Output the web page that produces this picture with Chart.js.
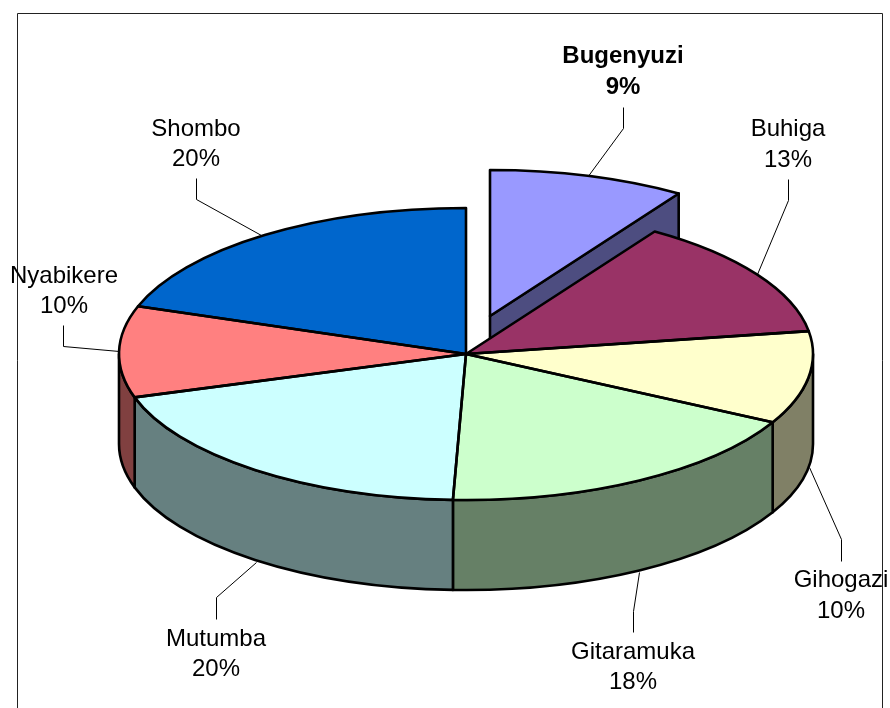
<!DOCTYPE html>
<html>
<head>
<meta charset="utf-8">
<script src="https://cdn.jsdelivr.net/npm/chart.js@4"></script>
<style>
html,body{margin:0;padding:0;background:#fff}
canvas{display:block}
</style>
</head>
<body>
<canvas id="c" width="890" height="708"></canvas>
<script>
const categories = ['Bugenyuzi','Buhiga','Gihogazi','Gitaramuka','Mutumba','Nyabikere','Shombo'];
const shares = [9.15,13.35,10.25,17.85,19.6,10.1,19.7];
const topColors = ['#9999FF','#993366','#FFFFCC','#CCFFCC','#CCFFFF','#FF8080','#0066CC'];
const wallColors = ['#4D4D80','#4D1A33','#808066','#668066','#668080','#804040','#003366'];

const TILT = 146/347, DEPTH = 90, RADIUS = 347;
const EXPLODED = 0, EXPLODE_DX = 24, EXPLODE_DY = -38;
const FONT = '"Liberation Sans", Arial, sans-serif';
const labelLayout = [
  {x:623,y:[63,94],bold:true,line:[[623,107],[623,128],[587,177]]},
  {x:788,y:[136,167],line:[[788,179],[788,200],[757,274]]},
  {x:841,y:[587,618],line:[[809,467],[841,539],[841,561]]},
  {x:633,y:[659,689],line:[[639,572],[633,611],[633,632]]},
  {x:216,y:[646,676],line:[[256,562],[216,597],[216,619]]},
  {x:64,y:[283,313],line:[[63,325],[63,346],[119,351]]},
  {x:196,y:[136,166],line:[[196,178],[196,199],[261,235]]}
];

function centre(chart){
  const a = chart.chartArea;
  return {cx:(a.left+a.right)/2, cy:(a.top+a.bottom)/2};
}
function frontSpan(a0,a1){
  // part of [a0,a1] on the near half of the disc (0..PI in canvas angles)
  const s = Math.max(a0,0), e = Math.min(a1,Math.PI);
  return e>s ? [s,e] : null;
}
const pie3d = {
  id:'pie3d',
  beforeDatasetsDraw(chart){
    const ctx = chart.ctx, arcs = chart.getDatasetMeta(0).data, {cx,cy} = centre(chart);
    // frame
    ctx.save();
    ctx.strokeStyle='#222'; ctx.lineWidth=1;
    ctx.beginPath(); ctx.moveTo(17.5,708); ctx.lineTo(17.5,13.5); ctx.lineTo(882.5,13.5); ctx.lineTo(882.5,708); ctx.stroke();
    // leader lines
    ctx.strokeStyle='#000'; ctx.lineWidth=1;
    labelLayout.forEach(l=>{
      ctx.beginPath();
      l.line.forEach((p,i)=> i? ctx.lineTo(p[0]+.5,p[1]+.5):ctx.moveTo(p[0]+.5,p[1]+.5));
      ctx.stroke();
    });
    ctx.lineWidth=2.6; ctx.strokeStyle='#000'; ctx.lineJoin='round';
    // exploded slice: move it on the disc plane, draw its cut face
    const ex = arcs[EXPLODED];
    ex.x = cx+EXPLODE_DX; ex.y = cy+EXPLODE_DY/TILT;
    const ax = cx+EXPLODE_DX, ay = cy+EXPLODE_DY;
    const rx = ax+RADIUS*Math.cos(ex.endAngle), ry = ay+RADIUS*TILT*Math.sin(ex.endAngle);
    ctx.fillStyle = wallColors[EXPLODED];
    ctx.beginPath(); ctx.moveTo(ax,ay); ctx.lineTo(rx,ry); ctx.lineTo(rx,ry+DEPTH); ctx.lineTo(ax,ay+DEPTH); ctx.closePath();
    ctx.fill(); ctx.stroke();
    // outer walls of the other slices
    arcs.forEach((arc,i)=>{
      if(i===EXPLODED) return;
      const span = frontSpan(arc.startAngle,arc.endAngle);
      if(!span) return;
      ctx.fillStyle = wallColors[i];
      ctx.beginPath();
      ctx.ellipse(cx,cy,RADIUS,RADIUS*TILT,0,span[0],span[1]);
      ctx.ellipse(cx,cy+DEPTH,RADIUS,RADIUS*TILT,0,span[1],span[0],true);
      ctx.closePath();
      ctx.fill(); ctx.stroke();
    });
    ctx.restore();
    // the library's arcs are drawn flattened onto the disc plane
    ctx.save();
    ctx.translate(0,cy); ctx.scale(1,TILT); ctx.translate(0,-cy);
  },
  afterDatasetsDraw(chart){
    const ctx = chart.ctx, arcs = chart.getDatasetMeta(0).data, {cx,cy} = centre(chart);
    ctx.restore();
    ctx.save();
    ctx.lineWidth=2.6; ctx.strokeStyle='#000'; ctx.lineJoin='round';
    arcs.forEach((arc,i)=>{
      const x = i===EXPLODED? cx+EXPLODE_DX : cx, y = i===EXPLODED? cy+EXPLODE_DY : cy;
      ctx.beginPath();
      ctx.moveTo(x,y);
      ctx.ellipse(x,y,RADIUS,RADIUS*TILT,0,arc.startAngle,arc.endAngle);
      ctx.closePath();
      ctx.stroke();
    });
    // labels
    const total = shares.reduce((a,b)=>a+b,0);
    ctx.fillStyle='#000'; ctx.textAlign='center'; ctx.textBaseline='alphabetic';
    categories.forEach((name,i)=>{
      const l = labelLayout[i];
      ctx.font = (l.bold?'bold ':'')+'24px '+FONT;
      ctx.fillText(name,l.x,l.y[0]);
      ctx.fillText(Math.round(shares[i]/total*100)+'%',l.x,l.y[1]);
    });
    ctx.restore();
  }
};

new Chart(document.getElementById('c'),{
  type:'pie',
  data:{labels:categories,datasets:[{data:shares,backgroundColor:topColors,borderWidth:0,clip:false}]},
  options:{
    responsive:false,
    animation:false,
    radius:RADIUS,
    layout:{padding:{left:42}},
    plugins:{legend:{display:false},tooltip:{enabled:false}}
  },
  plugins:[pie3d]
});
</script>
</body>
</html>
